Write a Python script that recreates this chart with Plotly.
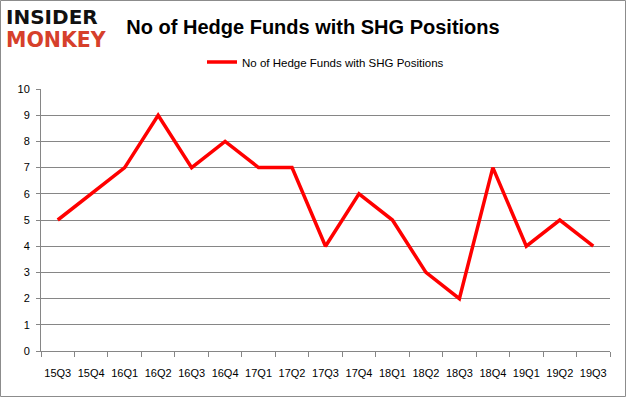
import plotly.graph_objects as go

quarters = ["15Q3", "15Q4", "16Q1", "16Q2", "16Q3", "16Q4", "17Q1", "17Q2", "17Q3",
            "17Q4", "18Q1", "18Q2", "18Q3", "18Q4", "19Q1", "19Q2", "19Q3"]
funds = [5, 6, 7, 9, 7, 8, 7, 7, 4, 6, 5, 3, 2, 7, 4, 5, 4]
series_name = "No of Hedge Funds with SHG Positions"

W, H = 626, 397
L, R, T, B = 41, 16, 89, 46
pw, ph = W - L - R, H - T - B

fig = go.Figure()
fig.add_trace(go.Scatter(x=quarters, y=funds, mode="lines", name=series_name,
                         line=dict(color="#ff0000", width=3.5)))

def px_x(p):
    return (p - L) / pw

def px_y(p):
    return (H - B - p) / ph

fig.update_layout(
    width=W, height=H,
    margin=dict(l=L, r=R, t=T, b=B, autoexpand=False),
    paper_bgcolor="white", plot_bgcolor="white",
    font=dict(family="Liberation Sans, Arial, sans-serif", size=11, color="#000000"),
    title=dict(text="<b>No of Hedge Funds with SHG Positions</b>", x=0.5, xanchor="center",
               y=1 - 27 / H, yanchor="middle",
               font=dict(size=20, family="Liberation Sans, Arial, sans-serif", color="#000")),
    showlegend=True,
    legend=dict(orientation="h", x=0.5, xanchor="center", y=1 + 27 / ph, yanchor="middle",
                font=dict(size=11.5), bgcolor="rgba(0,0,0,0)", itemwidth=30),
    xaxis=dict(type="category", tickson="boundaries", ticks="outside", ticklen=5,
               tickcolor="#868686", showline=True, linecolor="#868686", linewidth=1,
               showgrid=False, range=[-0.5, len(quarters) - 0.5], ticklabelstandoff=12,
               tickangle=0, automargin=False, tickfont=dict(size=11)),
    yaxis=dict(range=[0, 10], dtick=1, ticks="outside", ticklen=4, tickcolor="#868686",
               showline=True, linecolor="#868686", linewidth=1, showgrid=True,
               gridcolor="#868686", gridwidth=1, zeroline=False, ticklabelstandoff=4,
               automargin=False, tickfont=dict(size=11)),
    shapes=[dict(type="rect", xref="paper", yref="paper",
                 x0=px_x(0.5), x1=px_x(W - 0.5), y0=px_y(0.5), y1=px_y(H - 0.5),
                 line=dict(color="#8c8c8c", width=1), fillcolor="rgba(0,0,0,0)", layer="below")],
    annotations=[
        dict(text="<b>INSIDER</b>", xref="paper", yref="paper", x=px_x(4), y=px_y(17),
             xanchor="left", yanchor="middle", showarrow=False,
             font=dict(size=20, family="DejaVu Sans, sans-serif", color="#111111")),
        dict(text="<b>MONKEY</b>", xref="paper", yref="paper", x=px_x(4), y=px_y(40),
             xanchor="left", yanchor="middle", showarrow=False,
             font=dict(size=20.5, family="DejaVu Sans, sans-serif", color="#d6402b")),
    ],
)

fig.write_html("out.html", config={"displayModeBar": False},
               post_script="document.body.style.margin='0';document.body.style.overflow='hidden';")
